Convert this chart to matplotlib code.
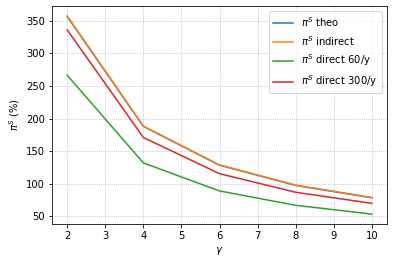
import matplotlib
matplotlib.use("Agg")
import matplotlib.pyplot as plt

gamma = [2, 4, 6, 8, 10]
theo = [356.5, 188.0, 128.5, 97.5, 78.5]
indirect = [357.5, 188.5, 129.0, 98.0, 79.0]
direct60 = [266.5, 132.0, 89.0, 67.0, 53.5]
direct300 = [336.0, 171.0, 115.5, 87.0, 70.0]
labels = [r"$\pi^S$ theo", r"$\pi^S$ indirect", r"$\pi^S$ direct 60/y", r"$\pi^S$ direct 300/y"]

fig = plt.figure(figsize=(393/72, 264/72), dpi=72)
ax = fig.add_axes([52/393, 1-224/264, (387-52)/393, (224-6)/264])
for ys, lab in zip([theo, indirect, direct60, direct300], labels):
    ax.plot(gamma, ys, label=lab)
ax.grid(True, linestyle=':', color='#b0b0b0')
ax.set_xlabel(r"$\gamma$")
ax.set_ylabel(r"$\pi^S$ (%)")
ax.set_xticks(range(2, 11))
ax.legend(loc='upper right')
fig.savefig("out.png", dpi=72)
